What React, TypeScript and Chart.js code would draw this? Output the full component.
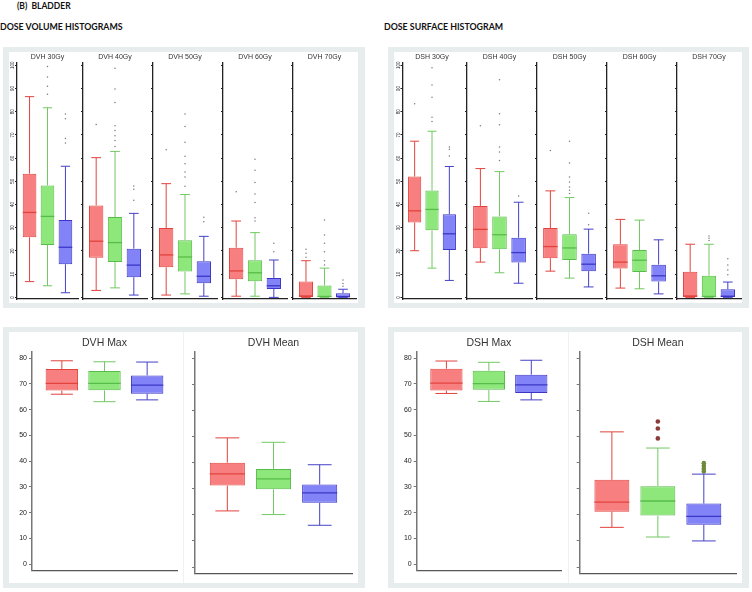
import React, { useEffect, useRef } from "react";
import { Chart, registerables } from "chart.js";

Chart.register(...registerables);

// ---------------- data ----------------
const SERIES = ["Group 1", "Group 2", "Group 3"];

const DVH_TITLES = ["DVH 30Gy", "DVH 40Gy", "DVH 50Gy", "DVH 60Gy", "DVH 70Gy"];
const DVH_MIN = [[6.8, 5.0, 2.0], [3.0, 4.1, 1.0], [1.0, 1.5, 0.5], [0.5, 0.5, 0], [0, 0, 0]];
const DVH_Q1 = [[25.9, 22.6, 14.3], [17.1, 15.2, 8.7], [13.0, 11.1, 6.1], [7.8, 7.0, 3.6], [0, 0, 0]];
const DVH_MED = [[36.6, 34.9, 21.6], [24.2, 23.6, 13.9], [18.3, 17.4, 9.1], [11.4, 10.6, 5.0], [0.6, 0.4, 0.3]];
const DVH_Q3 = [[53.3, 48.2, 33.3], [39.6, 34.6, 21.0], [29.9, 24.6, 15.6], [21.4, 16.0, 8.4], [6.8, 5.1, 1.8]];
const DVH_MAX = [[86.5, 81.7, 56.5], [60.2, 62.9, 36.2], [49.0, 44.3, 26.3], [32.9, 27.9, 16.1], [15.8, 12.6, 3.5]];
const DVH_OUT = [
  [[], [99.5, 95, 91, 87.5], [79, 77, 68.5, 66.5]],
  [[74.5], [98.7, 89.8, 84, 74, 71.9, 69.7, 67.6, 65], [48, 46.6, 41.9]],
  [[63.6], [79, 73.6, 66.8, 60.8, 57.6, 54, 51.9, 47.9], [34.5, 32.6]],
  [[45.5], [59.5, 54.8, 49.5, 44.5, 40.9, 34.3, 32.9], [23.3, 19.7]],
  [[20.7, 19, 17.3], [33.3, 26.9, 23.3, 19.7, 15.8, 14], [7.5, 6, 4.8]],
];

const DSH_TITLES = ["DSH 30Gy", "DSH 40Gy", "DSH 50Gy", "DSH 60Gy", "DSH 70Gy"];
const DSH_MIN = [[20.1, 12.6, 7.3], [15.2, 10.6, 6.1], [11.3, 8.3, 4.5], [4.0, 3.7, 1.5], [0, 0, 0]];
const DSH_Q1 = [[32.3, 28.9, 20.4], [21.2, 20.7, 15.0], [16.9, 16.1, 11.3], [12.4, 10.9, 6.8], [0, 0, 0]];
const DSH_MED = [[37.3, 37.9, 27.4], [29.3, 27.0, 19.3], [21.9, 21.3, 14.3], [15.2, 16.0, 9.3], [0.6, 0.4, 0.5]];
const DSH_Q3 = [[52.1, 46.1, 35.8], [39.4, 34.9, 25.7], [29.9, 27.2, 18.8], [22.9, 20.4, 14.1], [11.0, 9.3, 3.5]];
const DSH_MAX = [[67.3, 71.6, 56.4], [55.5, 54.2, 41.0], [45.9, 43.0, 29.4], [33.6, 33.3, 24.8], [22.9, 22.9, 6.6]];
const DSH_OUT = [
  [[83.4], [99, 91.5, 86.2, 77.6, 75.8], [64.8, 63.8, 60.9]],
  [[74], [93.8, 79.1, 74.4, 64.8, 62.6, 59], [43.7]],
  [[63.3], [67.3, 57.9, 51.9, 49.7, 47.6, 46.2, 44.8], [36.2, 31.3]],
  [[], [], []],
  [[], [26.5, 25.5, 24.5], [16.6, 14, 11.8, 9.7]],
];

const SUMMARY_TITLES = ["DVH Max", "DVH Mean", "DSH Max", "DSH Mean"];
const SUMMARY_MIN = [[66.0, 63.1, 63.8], [21.5, 20.1, 16.0], [66.3, 63.2, 63.8], [15.2, 11.5, 10.0]];
const SUMMARY_Q1 = [[67.4, 67.5, 66.2], [31.2, 29.8, 24.6], [67.4, 67.7, 66.5], [21.2, 19.7, 16.2]];
const SUMMARY_MED = [[70.2, 70.2, 69.5], [35.7, 33.8, 28.4], [70.3, 70.1, 69.6], [24.9, 25.3, 19.4]];
const SUMMARY_Q3 = [[75.8, 75.0, 73.3], [40.0, 37.6, 31.6], [75.9, 75.1, 73.6], [33.4, 31.0, 24.3]];
const SUMMARY_MAX = [[79.0, 78.6, 78.5], [49.5, 47.8, 39.2], [78.9, 78.4, 79.2], [51.8, 45.6, 35.6]];
const SUMMARY_OUT = [
  [[], [], []],
  [[], [], []],
  [[], [], []],
  [[], [55.8, 53.1, 49.3], [39.8, 38.7, 37.6, 36.6]],
];

const TOP_TICKS = [0, 10, 20, 30, 40, 50, 60, 70, 80, 90, 100];
const BOTTOM_TICKS = [0, 10, 20, 30, 40, 50, 60, 70, 80];
const GROUP_POSITIONS = [1, 2, 3];

// ---------------- styles ----------------
const FONT = "'Liberation Sans', Arial, Helvetica, sans-serif";
const FILL = ["#F77F7F", "#8DE77B", "#8383F8"];
const BORDER = ["#E2433E", "#58BC48", "#3B36C6"];
const WHISKER = ["#E2433E", "#72C862", "#4541C6"];
const GREY_OUT = ["#7a7a7a", "#7a7a7a", "#7a7a7a"];
const DARK_OUT = ["#8B3A3A", "#8B3A3A", "#6E8A3A"];

type Look = {
  titleY: number;
  titleSize: number;
  plotTop: number;
  plotBottom: number;
  yMin: number;
  yMax: number;
  ticks: number[];
  tickSize: number;
  tickRotate: boolean;
  tickLen: number;
  tickPad: number;
  yAxisColor: string;
  yAxisWidth: number;
  xAxisColor: string;
  xAxisWidth: number;
  outRadius: number;
};

const TOP_LOOK: Look = {
  titleY: 58,
  titleSize: 7,
  plotTop: 63,
  plotBottom: 299,
  yMin: -0.7,
  yMax: 101,
  ticks: TOP_TICKS,
  tickSize: 4.5,
  tickRotate: true,
  tickLen: 2,
  tickPad: -2,
  yAxisColor: "#222",
  yAxisWidth: 1.3,
  xAxisColor: "#222",
  xAxisWidth: 1.2,
  outRadius: 0.75,
};

const BOTTOM_LOOK: Look = {
  titleY: 344,
  titleSize: 10.5,
  plotTop: 351.5,
  plotBottom: 573.8,
  yMin: -2.6,
  yMax: 82.6,
  ticks: BOTTOM_TICKS,
  tickSize: 7,
  tickRotate: false,
  tickLen: 3,
  tickPad: 2,
  yAxisColor: "#777",
  yAxisWidth: 1.5,
  xAxisColor: "#555",
  xAxisWidth: 1.2,
  outRadius: 2.3,
};

type BoxProps = {
  title: string;
  min: number[];
  q1: number[];
  med: number[];
  q3: number[];
  max: number[];
  out: number[][];
  outColors: string[];
  plotLeft: number;
  plotRight: number;
  axisSpace: number;
  showLabels: boolean;
  look: Look;
};

function BoxChart(p: BoxProps) {
  const ref = useRef<HTMLCanvasElement>(null);
  const look = p.look;
  const left = Math.floor(p.plotLeft - p.axisSpace);
  const right = Math.ceil(p.plotRight + 3);
  const top = Math.floor(look.titleY - 0.6 * look.titleSize);
  const bottom = Math.ceil(look.plotBottom + 3);
  const width = right - left;
  const height = bottom - top;

  useEffect(() => {
    const canvas = ref.current;
    if (!canvas) return;
    const yAxisW = p.plotLeft - left;
    const padRight = right - p.plotRight;
    const padBottom = bottom - look.plotBottom;
    const titlePadBottom = Math.max(0, look.plotTop - top - 1.2 * look.titleSize);

    const points: { x: number; y: number }[] = [];
    const pointColors: string[] = [];
    p.out.forEach((vals, i) =>
      vals.forEach((v) => {
        points.push({ x: GROUP_POSITIONS[i], y: v });
        pointColors.push(p.outColors[i]);
      })
    );

    const whiskers = {
      id: "whiskers",
      afterDatasetsDraw(chart: any) {
        const meta = chart.getDatasetMeta(0);
        const ys = chart.scales.y;
        const ctx = chart.ctx;
        meta.data.forEach((bar: any, i: number) => {
          const { x, width: w } = bar.getProps(["x", "width"], true);
          const cap = w * 0.68;
          const pMin = ys.getPixelForValue(p.min[i]);
          const pQ1 = ys.getPixelForValue(p.q1[i]);
          const pMed = ys.getPixelForValue(p.med[i]);
          const pQ3 = ys.getPixelForValue(p.q3[i]);
          const pMax = ys.getPixelForValue(p.max[i]);
          ctx.save();
          ctx.strokeStyle = WHISKER[i];
          ctx.lineWidth = 1;
          ctx.beginPath();
          ctx.moveTo(x, pQ3);
          ctx.lineTo(x, pMax);
          ctx.moveTo(x - cap / 2, pMax);
          ctx.lineTo(x + cap / 2, pMax);
          ctx.moveTo(x, pQ1);
          ctx.lineTo(x, pMin);
          ctx.moveTo(x - cap / 2, pMin);
          ctx.lineTo(x + cap / 2, pMin);
          ctx.stroke();
          ctx.strokeStyle = BORDER[i];
          ctx.lineWidth = 1.3;
          ctx.beginPath();
          ctx.moveTo(x - w / 2, pMed);
          ctx.lineTo(x + w / 2, pMed);
          ctx.stroke();
          ctx.restore();
        });
      },
    };

    const chart = new Chart(canvas, {
      type: "bar",
      data: {
        datasets: [
          {
            type: "bar",
            label: "IQR",
            data: GROUP_POSITIONS.map((gx, i) => ({ x: gx, y: [p.q1[i], p.q3[i]] })) as any,
            backgroundColor: FILL,
            borderColor: BORDER,
            borderWidth: 1,
            borderSkipped: false,
            barPercentage: 0.76,
            categoryPercentage: 1,
          },
          {
            type: "scatter",
            label: "Outliers",
            data: points as any,
            pointRadius: look.outRadius,
            pointBackgroundColor: pointColors,
            pointBorderWidth: 0,
            pointHoverRadius: look.outRadius,
          },
        ] as any,
      },
      options: {
        animation: false,
        responsive: false,
        maintainAspectRatio: false,
        events: [],
        layout: { padding: { left: 0, top: 0, right: padRight, bottom: padBottom } },
        plugins: {
          legend: { display: false },
          tooltip: { enabled: false },
          title: {
            display: true,
            text: p.title,
            fullSize: false,
            color: "#333",
            font: { family: FONT, size: look.titleSize, weight: "normal", lineHeight: 1.2 },
            padding: { top: 0, bottom: titlePadBottom },
          },
        },
        scales: {
          x: {
            type: "linear",
            min: 0.3,
            max: 3.7,
            bounds: "data",
            offset: false,
            grid: { display: false },
            ticks: { display: false },
            border: { display: true, color: look.xAxisColor, width: look.xAxisWidth },
            afterBuildTicks: (s: any) => {
              s.ticks = GROUP_POSITIONS.map((v) => ({ value: v }));
            },
            afterFit: (s: any) => {
              s.height = 0;
            },
          },
          y: {
            type: "linear",
            min: look.yMin,
            max: look.yMax,
            bounds: "data",
            afterBuildTicks: (s: any) => {
              s.ticks = look.ticks.map((v) => ({ value: v }));
            },
            afterFit: (s: any) => {
              s.width = yAxisW;
            },
            grid: {
              display: true,
              drawOnChartArea: false,
              drawTicks: true,
              tickLength: look.tickLen,
              tickColor: look.yAxisColor,
              color: look.yAxisColor,
            },
            border: { display: true, color: look.yAxisColor, width: look.yAxisWidth },
            ticks: {
              display: p.showLabels,
              color: "#222",
              padding: look.tickPad,
              font: { family: FONT, size: look.tickSize },
              minRotation: look.tickRotate ? 90 : 0,
              maxRotation: look.tickRotate ? 90 : 0,
              crossAlign: look.tickRotate ? "center" : "near",
            },
          },
        } as any,
      },
      plugins: [whiskers],
    } as any);
    return () => chart.destroy();
  }, []);

  return (
    <canvas
      ref={ref}
      width={width}
      height={height}
      style={{ position: "absolute", left, top, width, height }}
    />
  );
}

// ---------------- layout ----------------
const DVH_AXIS_X = [17, 83, 153, 223, 293];
const DVH_PLOT_W = [61, 64, 64, 64, 63];
const DSH_AXIS_X = [402.5, 467, 537, 607, 677];
const DSH_PLOT_W = [59, 65, 65, 65, 64];
const SUMMARY_PLOT = [
  [32, 177],
  [195, 352],
  [416.7, 561],
  [579.7, 736],
];

const GREY = "#E6EDEC";

function Panel({ left, top, width, height }: { left: number; top: number; width: number; height: number }) {
  return (
    <div style={{ position: "absolute", left, top, width, height, background: GREY }}>
      <div style={{ position: "absolute", left: 6, top: 5, right: 7, bottom: 5, background: "#fff" }} />
    </div>
  );
}

export default function App() {
  const headStyle: React.CSSProperties = {
    position: "absolute",
    fontFamily: "Lato, 'Open Sans', sans-serif",
    fontWeight: 700,
    color: "#111",
    whiteSpace: "pre",
  };
  return (
    <div style={{ position: "absolute", left: 0, top: 0, width: 752, height: 592, background: "#fff", overflow: "hidden" }}>
      <div style={{ ...headStyle, left: 17, top: 1, fontSize: 8.5, lineHeight: "10px" }}>(B)  BLADDER</div>
      <div style={{ ...headStyle, left: 0, top: 21, fontSize: 8.8, lineHeight: "12px" }}>DOSE VOLUME HISTOGRAMS</div>
      <div style={{ ...headStyle, left: 384, top: 21, fontSize: 8.8, lineHeight: "12px" }}>DOSE SURFACE HISTOGRAM</div>

      <Panel left={3} top={47} width={362} height={261} />
      <Panel left={388} top={47} width={361} height={261} />
      <Panel left={3} top={327} width={362} height={261} />
      <Panel left={388} top={327} width={361} height={261} />
      <div style={{ position: "absolute", left: 183, top: 332, width: 1, height: 251, background: "#EEF2F1" }} />
      <div style={{ position: "absolute", left: 568, top: 332, width: 1, height: 251, background: "#EEF2F1" }} />

      {DVH_TITLES.map((t, k) => (
        <BoxChart
          key={"dvh" + k}
          title={t}
          min={DVH_MIN[k]}
          q1={DVH_Q1[k]}
          med={DVH_MED[k]}
          q3={DVH_Q3[k]}
          max={DVH_MAX[k]}
          out={DVH_OUT[k]}
          outColors={GREY_OUT}
          plotLeft={DVH_AXIS_X[k]}
          plotRight={DVH_AXIS_X[k] + DVH_PLOT_W[k]}
          axisSpace={k === 0 ? 9 : 5}
          showLabels={k === 0}
          look={TOP_LOOK}
        />
      ))}
      {DSH_TITLES.map((t, k) => (
        <BoxChart
          key={"dsh" + k}
          title={t}
          min={DSH_MIN[k]}
          q1={DSH_Q1[k]}
          med={DSH_MED[k]}
          q3={DSH_Q3[k]}
          max={DSH_MAX[k]}
          out={DSH_OUT[k]}
          outColors={GREY_OUT}
          plotLeft={DSH_AXIS_X[k]}
          plotRight={DSH_AXIS_X[k] + DSH_PLOT_W[k]}
          axisSpace={k === 0 ? 9.5 : 5}
          showLabels={k === 0}
          look={TOP_LOOK}
        />
      ))}
      {SUMMARY_TITLES.map((t, k) => (
        <BoxChart
          key={"sum" + k}
          title={t}
          min={SUMMARY_MIN[k]}
          q1={SUMMARY_Q1[k]}
          med={SUMMARY_MED[k]}
          q3={SUMMARY_Q3[k]}
          max={SUMMARY_MAX[k]}
          out={SUMMARY_OUT[k]}
          outColors={DARK_OUT}
          plotLeft={SUMMARY_PLOT[k][0]}
          plotRight={SUMMARY_PLOT[k][1]}
          axisSpace={k % 2 === 0 ? 15 : 6}
          showLabels={k % 2 === 0}
          look={BOTTOM_LOOK}
        />
      ))}
    </div>
  );
}
